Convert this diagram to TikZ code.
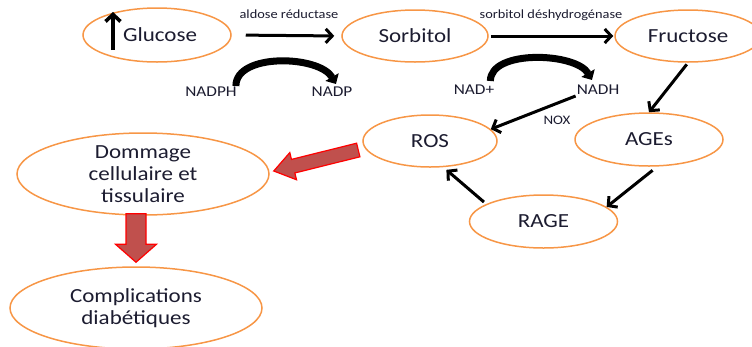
\documentclass[tikz,border=0pt]{standalone}
\usepackage{fontspec}
\setmainfont{Carlito}[FakeStretch=1.15]
\usetikzlibrary{shapes.geometric,arrows.meta,calc}
\definecolor{orng}{HTML}{F79646}
\definecolor{txt}{HTML}{1C1C30}
\definecolor{blockred}{HTML}{C0504D}
\newcommand\blockarrow[5]{%
  \coordinate (bah) at ($(#2)!#5!(#1)$);
  \filldraw[blockred,draw=red,line width=1.2pt,line join=miter]
    ($(#1)!#3!90:(#2)$) -- ($(bah)!#3!-90:(#1)$) -- ($(bah)!#4!-90:(#1)$) -- (#2)
    -- ($(bah)!#4!90:(#1)$) -- ($(bah)!#3!90:(#1)$) -- ($(#1)!#3!-90:(#2)$) -- cycle;
}
\begin{document}
\begin{tikzpicture}[
  x=1pt, y=-1pt,
  ell/.style={ellipse, draw=orng, line width=1.5pt, inner sep=0pt, text=txt,
    align=center, font=\fontsize{20}{22}\selectfont},
  lbl/.style={inner sep=1pt, text=txt, font=\fontsize{12.5}{14}\selectfont},
  cofac/.style={inner sep=1pt, text=txt, font=\fontsize{15}{17}\selectfont},
  arr/.style={line width=3pt, -{Straight Barb[length=6.5pt,width=14pt]}},
  curv/.style={line width=7pt, -{Triangle[length=8pt,width=15pt]}}
]
\clip (0,0) rectangle (752,346);

\node[ell, minimum width=148pt, minimum height=54pt] (glu) at (157,35) {\hspace*{6pt}Glucose};
\node[ell, minimum width=146pt, minimum height=52pt] (sor) at (415,36) {Sorbitol};
\node[ell, minimum width=146pt, minimum height=52pt] (fru) at (688,36) {Fructose};
\node[ell, minimum width=134pt, minimum height=52pt] (ros) at (430,141) {ROS};
\node[ell, minimum width=148pt, minimum height=53pt] (age) at (649,139.5) {AGEs};
\node[ell, minimum width=148pt, minimum height=53pt] (rag) at (543.5,221.5) {RAGE};
\node[ell, minimum width=252pt, minimum height=82pt] (dmg) at (143,174) {Dommage\\cellulaire et\\tissulaire};
\node[ell, minimum width=252pt, minimum height=82pt] (cpl) at (136,308) {Complications\\diabétiques};

\node[lbl] (ar) at (289,14) {aldose réductase};
\node[lbl] (sd) at (551,15) {sorbitol déshydrogénase};
\node[cofac] (nadph) at (211,92) {NADPH};
\node[cofac] (nadp) at (332,92) {NADP};
\node[cofac] (nad) at (474,90) {NAD+};
\node[cofac] (nadh) at (598,90) {NADH};
\node[lbl, font=\fontsize{13}{15}\selectfont] (nox) at (557,120) {NOX};

\coordinate (gl1) at ($(glu.center)+(-44,15)$);
\coordinate (gl2) at ($(glu.center)+(-44,-23)$);
\draw[line width=3.6pt, -{Straight Barb[length=7pt,width=15pt]}] (gl1) -- (gl2);

\draw[arr, shorten <=14pt, shorten >=7pt] (glu.east) -- (sor.west);
\draw[arr, shorten <=2pt, shorten >=1pt] (sor.east) -- (fru.west);
\draw[arr, shorten <=2pt] (fru.south) -- (age.north);
\draw[arr, shorten <=6pt] (age.-73) -- (rag.13);
\draw[arr, shorten <=3pt, shorten >=4pt] (rag.163) -- (ros.-63);
\draw[arr] (nadh.south west) -- (ros.11);

\draw[curv] ($(nadph.north east)+(-2,0)$) to[out=90,in=120,looseness=0.85] ($(nadp.north)+(4,-2)$);
\draw[curv] ($(nad.north east)+(-5,-3)$) to[out=90,in=120,looseness=0.8] ($(nadh.north)+(-6,-4)$);

\coordinate (rt) at ($(ros.west)+(-4,9)$);
\coordinate (rh) at ($(dmg.east)+(4,-3)$);
\blockarrow{rt}{rh}{7pt}{14pt}{20pt}
\coordinate (dt) at ($(dmg.south)+(-7,-2)$);
\coordinate (dh) at ($(cpl.north)+(0,-4)$);
\blockarrow{dt}{dh}{10pt}{20.5pt}{18pt}
\end{tikzpicture}
\end{document}
